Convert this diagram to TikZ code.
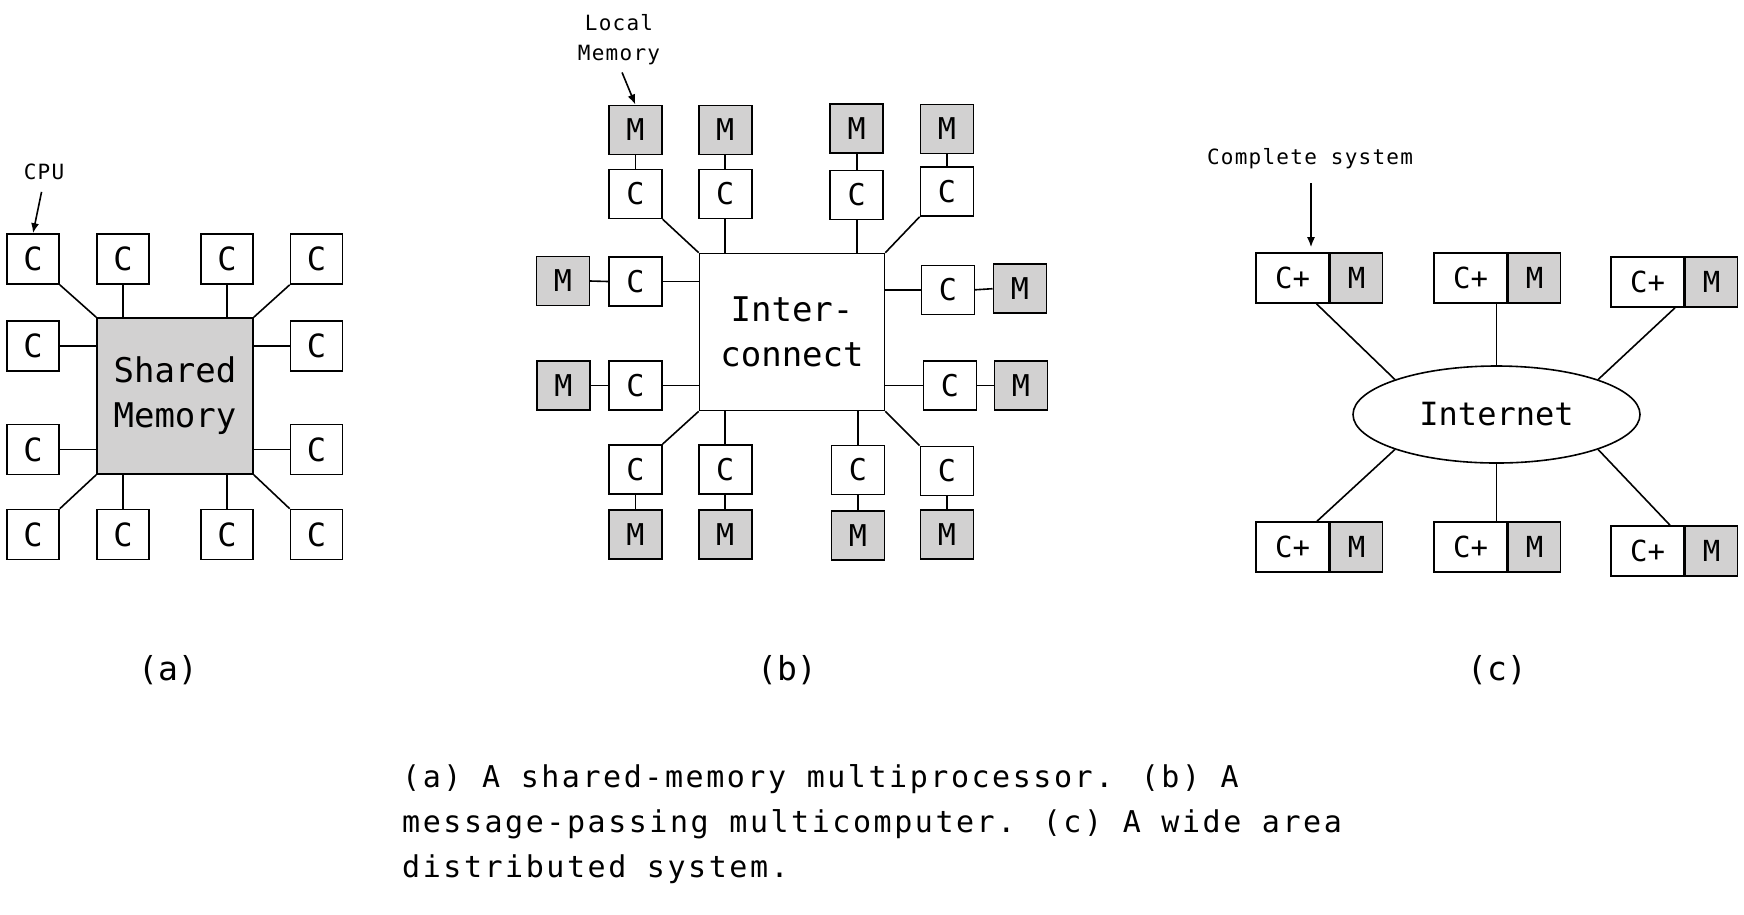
\documentclass[tikz,border=0pt]{standalone}
\usepackage{fontspec}
\usetikzlibrary{arrows.meta,shapes.geometric,calc}
\newfontfamily\dmono{DejaVu Sans Mono}
\newfontfamily\smfont[LetterSpace=6]{DejaVu Sans Mono}
\newfontfamily\capfont[LetterSpace=8.5]{DejaVu Sans Mono}
\definecolor{memgray}{RGB}{210,209,209}
\tikzset{
  cbx/.style={draw, line width=1.6pt, inner sep=0pt, fill=white, minimum width=52pt, minimum height=50pt, font=\dmono\fontsize{32}{38}\selectfont},
  bbx/.style={cbx, minimum width=53pt, minimum height=49pt, font=\dmono\fontsize{30}{36}\selectfont},
  mbx/.style={bbx, fill=memgray},
  ln/.style={line width=1.6pt},
  arr/.style={line width=1.6pt, -{Latex[length=10pt,width=8pt]}},
  small/.style={inner sep=0pt, font=\smfont\fontsize{21}{30.5}\selectfont, align=center},
  sub/.style={inner sep=0pt, font=\dmono\fontsize{33}{40}\selectfont}
}
\begin{document}
\begin{tikzpicture}[x=1pt,y=-1pt]
\useasboundingbox[fill=white] (0,0) rectangle (1744,914);
% ---------------- (a) ----------------
\node[cbx, fill=memgray, minimum width=156pt, minimum height=156pt, align=center, font=\dmono\fontsize{34}{45}\selectfont] (sm) at (175,396) {Shared\\Memory};
\node[cbx] (a11) at (33,259) {C};
\node[cbx] (a12) at (123,259) {C};
\node[cbx] (a13) at (227,259) {C};
\node[cbx] (a14) at (316.5,259) {C};
\node[cbx] (a21) at (33,346) {C};
\node[cbx] (a24) at (316.5,346) {C};
\node[cbx] (a31) at (33,449.5) {C};
\node[cbx] (a34) at (316.5,449.5) {C};
\node[cbx] (a41) at (33,534.5) {C};
\node[cbx] (a42) at (123,534.5) {C};
\node[cbx] (a43) at (227,534.5) {C};
\node[cbx] (a44) at (316.5,534.5) {C};
\draw[ln] (a11.south east) -- (sm.north west);
\draw[ln] (a12.south) -- (a12.south |- sm.north);
\draw[ln] (a13.south) -- (a13.south |- sm.north);
\draw[ln] (a14.south west) -- (sm.north east);
\draw[ln] (a21.east) -- (a21.east -| sm.west);
\draw[ln] (a31.east) -- (a31.east -| sm.west);
\draw[ln] (a24.west) -- (a24.west -| sm.east);
\draw[ln] (a34.west) -- (a34.west -| sm.east);
\draw[ln] (a41.north east) -- (sm.south west);
\draw[ln] (a42.north) -- (a42.north |- sm.south);
\draw[ln] (a43.north) -- (a43.north |- sm.south);
\draw[ln] (a44.north west) -- (sm.south east);
\node[small] (cpu) at (44,172) {CPU};
\draw[arr, shorten <=12pt] (cpu.south) -- (a11.north);
\node[sub] (la) at (168,670) {(a)};
% ---------------- (b) ----------------
\node[cbx, minimum width=185pt, minimum height=157pt, align=center, font=\dmono\fontsize{34}{45}\selectfont] (ic) at (792,332) {Inter-\\connect};
\node[mbx] (tm1) at (635.3,129.8) {M};
\node[bbx] (tc1) at (635.3,193.9) {C};
\node[mbx] (tm2) at (725.2,129.8) {M};
\node[bbx] (tc2) at (725.2,193.9) {C};
\node[mbx] (tm3) at (856.7,128.3) {M};
\node[bbx] (tc3) at (856.7,194.8) {C};
\node[mbx] (tm4) at (946.9,128.9) {M};
\node[bbx] (tc4) at (946.9,191.5) {C};
\node[mbx] (lm1) at (562.8,281) {M};
\node[bbx] (lc1) at (635.3,281.5) {C};
\node[mbx] (lm2) at (563.3,385.4) {M};
\node[bbx] (lc2) at (635.3,385.4) {C};
\node[bbx] (rc1) at (947.8,289.8) {C};
\node[mbx] (rm1) at (1019.8,288.7) {M};
\node[bbx] (rc2) at (949.9,385.4) {C};
\node[mbx] (rm2) at (1020.9,385.4) {M};
\node[bbx] (bc1) at (635.3,469.4) {C};
\node[mbx] (bm1) at (635.3,534.3) {M};
\node[bbx] (bc2) at (725.2,469.4) {C};
\node[mbx] (bm2) at (725.2,534.3) {M};
\node[bbx] (bc3) at (857.8,469.8) {C};
\node[mbx] (bm3) at (857.8,535.4) {M};
\node[bbx] (bc4) at (946.9,470.9) {C};
\node[mbx] (bm4) at (946.9,534.3) {M};
\foreach \i in {1,...,4}{
  \draw[ln] (tm\i.south) -- (tc\i.north);
  \draw[ln] (bc\i.south) -- (bm\i.north);
}
\draw[ln] (tc1.south east) -- (ic.north west);
\draw[ln] (tc2.south) -- (tc2.south |- ic.north);
\draw[ln] (tc3.south) -- (tc3.south |- ic.north);
\draw[ln] (tc4.south west) -- (ic.north east);
\draw[ln] (bc1.north east) -- (ic.south west);
\draw[ln] (bc2.north) -- (bc2.north |- ic.south);
\draw[ln] (bc3.north) -- (bc3.north |- ic.south);
\draw[ln] (bc4.north west) -- (ic.south east);
\draw[ln] (lm1.east) -- (lc1.west);
\draw[ln] (lm2.east) -- (lc2.west);
\draw[ln] (lc1.east) -- (lc1.east -| ic.west);
\draw[ln] (lc2.east) -- (lc2.east -| ic.west);
\draw[ln] (rc1.west) -- (rc1.west -| ic.east);
\draw[ln] (rc2.west) -- (rc2.west -| ic.east);
\draw[ln] (rc1.east) -- (rm1.west);
\draw[ln] (rc2.east) -- (rm2.west);
\node[small] (lmem) at (619,39.4) {Local\\Memory};
\draw[arr, shorten <=8pt] (lmem.south) -- (tm1.north);
\node[sub] (lb) at (787,670) {(b)};
% ---------------- (c) ----------------
\node[draw, ellipse, line width=1.6pt, inner sep=0pt, minimum width=287pt, minimum height=97pt, font=\dmono\fontsize{32}{38}\selectfont] (inet) at (1496.5,414.5) {Internet};
\tikzset{cpbx/.style={cbx, minimum width=73pt, font=\dmono\fontsize{29}{34}\selectfont},
         cmbx/.style={cbx, fill=memgray, anchor=west, font=\dmono\fontsize{29}{34}\selectfont}}
\node[cpbx] (cp1) at (1292.5,278) {C+};
\node[cmbx] (cm1) at (cp1.east) {M};
\node[cpbx] (cp2) at (1470.5,278) {C+};
\node[cmbx] (cm2) at (cp2.east) {M};
\node[cpbx] (cp3) at (1647.5,282) {C+};
\node[cmbx] (cm3) at (cp3.east) {M};
\node[cpbx] (cp4) at (1292.5,547) {C+};
\node[cmbx] (cm4) at (cp4.east) {M};
\node[cpbx] (cp5) at (1470.5,547) {C+};
\node[cmbx] (cm5) at (cp5.east) {M};
\node[cpbx] (cp6) at (1647.5,551) {C+};
\node[cmbx] (cm6) at (cp6.east) {M};
\draw[ln] ([xshift=24pt]cp1.south) -- (inet.161);
\draw[ln] (inet.north) -- (inet.north |- cp2.south);
\draw[ln] ([xshift=27.5pt]cp3.south) -- (inet.19);
\draw[ln] ([xshift=24.5pt]cp4.north) -- (inet.199);
\draw[ln] (inet.south) -- (inet.south |- cp5.north);
\draw[ln] ([xshift=22.5pt]cp6.north) -- (inet.341);
\node[small] (csys) at (1310,159) {Complete system};
\draw[arr, shorten <=14pt, shorten >=5pt] ([xshift=1pt]csys.south) -- ([xshift=1pt]csys.south |- cp1.north);
\node[sub] (lc) at (1497,670) {(c)};
% ---------------- caption ----------------
\node[anchor=base west, inner sep=0pt, align=left, font=\capfont\fontsize{30}{45}\selectfont] (cap) at (402,877) {(a) A shared-memory multiprocessor. (b) A\\message-passing multicomputer. (c) A wide area\\distributed system.};
\end{tikzpicture}
\end{document}
